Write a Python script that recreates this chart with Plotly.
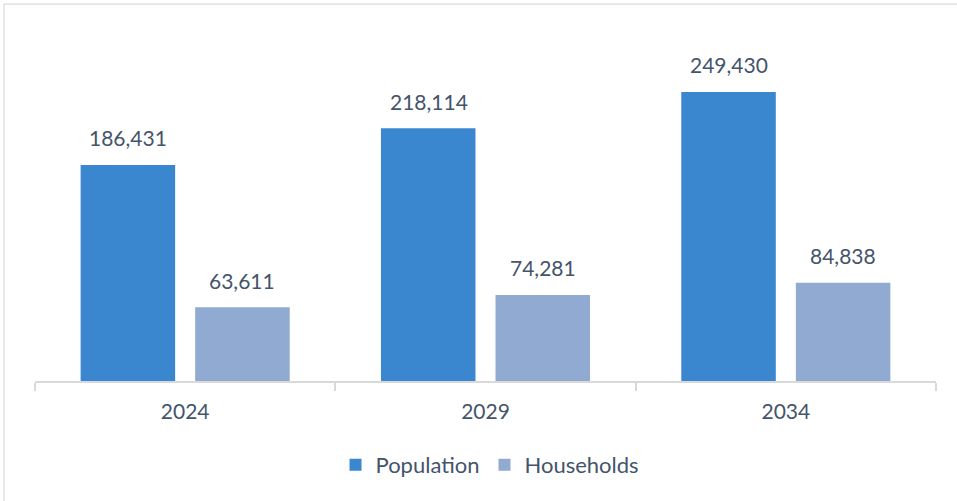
import plotly.graph_objects as go

years = ["2024", "2029", "2034"]
population = [186431, 218114, 249430]
households = [63611, 74281, 84838]

FONT = "Lato"
TXT = "#44546A"
POP_C = "#3A87D0"
HH_C = "#90AAD2"

fig = go.Figure()
fig.add_trace(go.Bar(name="Population", x=years, y=population,
                     marker=dict(color=POP_C, line=dict(width=0))))
fig.add_trace(go.Bar(name="Households", x=years, y=households,
                     marker=dict(color=HH_C, line=dict(width=0))))

annotations = []
for series, shift in ((population, -57), (households, 57)):
    for i, v in enumerate(series):
        annotations.append(dict(x=i, y=v, xref="x", yref="y", text=f"{v:,}",
                                showarrow=False, xshift=shift, yshift=27,
                                yanchor="middle", xanchor="center",
                                font=dict(family=FONT, size=21, color=TXT)))

fig.update_layout(
    width=957, height=501,
    margin=dict(l=35, r=21, t=30, b=120),
    paper_bgcolor="white", plot_bgcolor="white",
    barmode="group", bargap=0.237, bargroupgap=0.175,
    font=dict(family=FONT, size=21, color=TXT),
    showlegend=True,
    legend=dict(orientation="h", x=0.505, xanchor="center", y=-0.239, yanchor="middle",
                font=dict(family=FONT, size=22, color=TXT), itemclick=False),
    annotations=annotations,
    shapes=[dict(type="rect", xref="paper", yref="paper",
                 x0=-0.0344, x1=1.03, y0=-0.36, y1=1.074,
                 line=dict(color="#D9D9D9", width=1.2), fillcolor="rgba(0,0,0,0)", layer="below")],
)
fig.update_xaxes(type="category", categoryorder="array", categoryarray=years,
                 range=[-0.5, len(years) - 0.5],
                 showline=True, linecolor="#D9D9D9", linewidth=1.5,
                 ticks="outside", tickson="boundaries", ticklen=8, tickcolor="#D9D9D9",
                 tickwidth=1.5, ticklabelstandoff=11,
                 tickfont=dict(family=FONT, size=21, color=TXT),
                 showgrid=False, zeroline=False)
fig.update_yaxes(visible=False, range=[0, 302850], showgrid=False, zeroline=False)

fig.write_html("out.html", config={"displayModeBar": False},
               post_script="document.body.style.margin='0';")
